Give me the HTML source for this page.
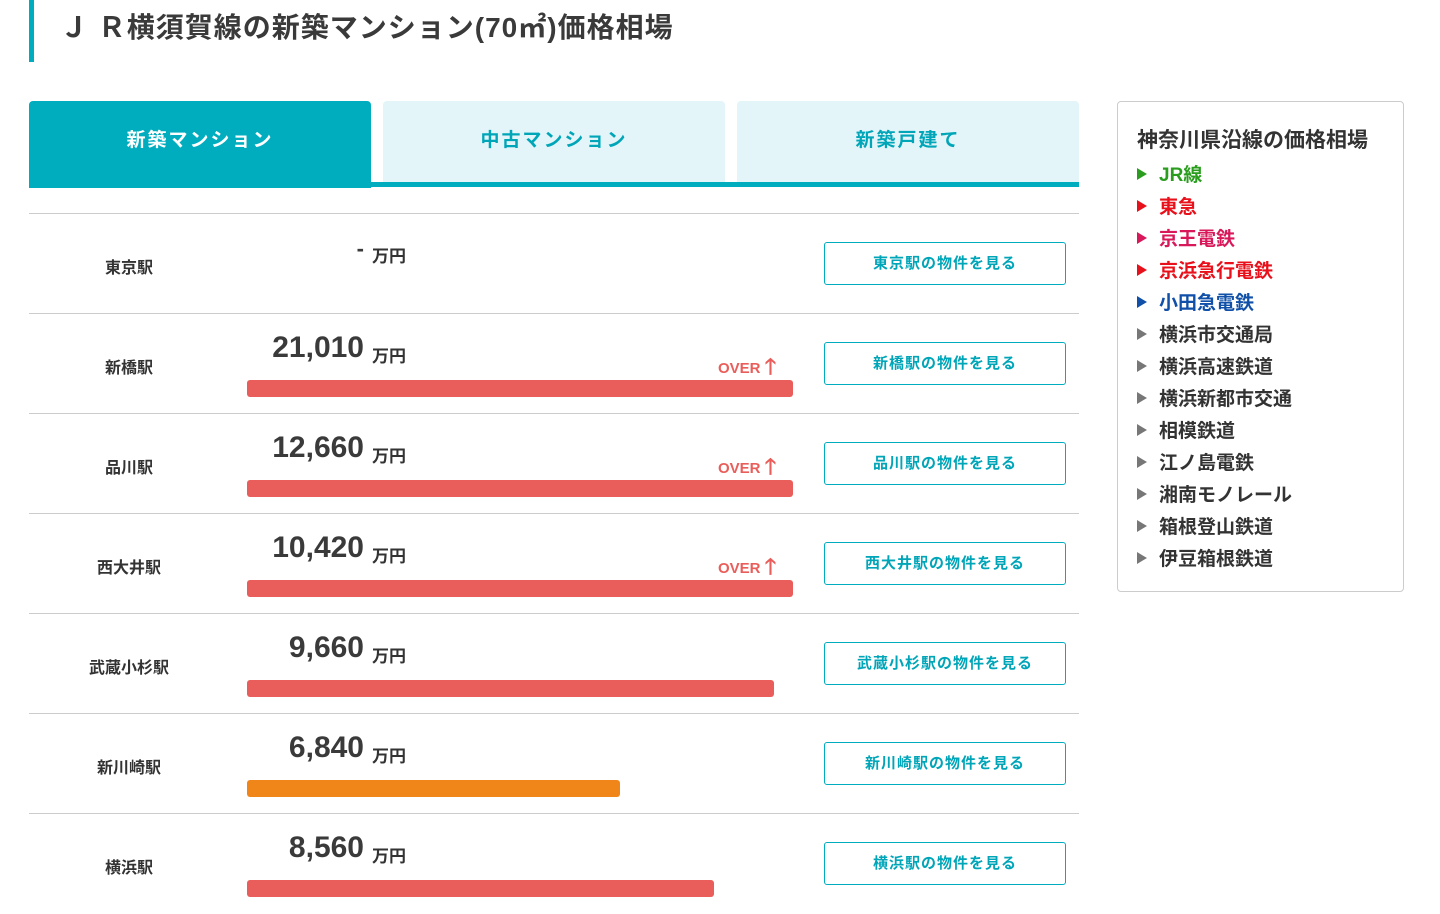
<!DOCTYPE html>
<html><head><meta charset="utf-8">
<style>
body{margin:0;width:1440px;height:892px;overflow:hidden;background:#fff;font-family:"Liberation Sans","Noto Sans CJK JP",sans-serif;color:#333;position:relative}
.abs{position:absolute}
#title{left:29px;top:0;height:62px;border-left:5px solid #00adbf;}
#title span{position:absolute;left:26px;top:6px;font-size:28px;font-weight:bold;white-space:nowrap;letter-spacing:1px;color:#3a3a3a}
.tab{top:101px;width:342px;height:81px;border-radius:4px 4px 0 0;background:#e3f5f8;color:#00a5b8;font-size:19px;font-weight:bold;text-align:center;line-height:80px;letter-spacing:2px}
.tab.on{background:#00adbf;color:#fff;height:87px}
#tabline{left:29px;top:182px;width:1050px;height:5px;background:#00adbf}
.row{left:29px;width:1050px;height:100px;border-top:1px solid #ccc}
.st{position:absolute;left:0;width:200px;text-align:center;top:40px;font-size:16px;font-weight:bold;color:#333}
.num{position:absolute;right:715px;top:17px;font-size:30px;font-weight:bold;color:#3a3a3a}
.unit{position:absolute;left:343px;top:28px;font-size:17px;font-weight:bold}
.btn{position:absolute;left:795px;top:28px;width:240px;height:41px;border:1px solid #00adbf;border-radius:3px;color:#00a5b8;font-size:15px;font-weight:bold;text-align:center;line-height:41px;letter-spacing:1px}
.bar{position:absolute;left:218px;top:66px;height:17px;border-radius:3px}
.over{position:absolute;left:689px;top:35px;color:#e95e5a;font-size:15px;font-weight:bold}
#side{left:1117px;top:101px;width:285px;height:489px;border:1px solid #ccc;border-radius:4px}
#side h3{margin:0;position:absolute;left:19px;top:22px;font-size:21px;font-weight:bold;color:#333;white-space:nowrap}
.li{position:absolute;left:19px;font-size:19px;font-weight:bold;white-space:nowrap}
.li b{display:inline-block;width:0;height:0;border-left:10px solid currentColor;border-top:6px solid transparent;border-bottom:6px solid transparent;margin-right:12px;vertical-align:1px}
</style></head><body>
<div id="title" class="abs"><span>Ｊ Ｒ横須賀線の新築マンション(70㎡)価格相場</span></div>
<div class="abs tab on" style="left:29px">新築マンション</div>
<div class="abs tab" style="left:383px">中古マンション</div>
<div class="abs tab" style="left:737px">新築戸建て</div>
<div id="tabline" class="abs"></div>
<div id="rows"></div>
<div id="side" class="abs">
<h3>神奈川県沿線の価格相場</h3>
<div id="lis"></div>
</div>
<script>
const stations=["東京駅","新橋駅","品川駅","西大井駅","武蔵小杉駅","新川崎駅","横浜駅"];
const prices=[null,21010,12660,10420,9660,6840,8560];
const maxVal=10000;
function barW(v){return Math.min(v,maxVal)/maxVal*546;}
const rows=document.getElementById('rows');
stations.forEach((s,i)=>{
 const r=document.createElement('div');r.className='abs row';r.style.top=(213+i*100)+'px';
 
 
 const v=prices[i];
 let h='<div class="st">'+s+'</div>';
 if(v==null){h+='<div class="num" style="top:22px;font-size:22px">-</div>';}
 else{h+='<div class="num">'+v.toLocaleString('en-US')+'</div>';
  const c=v<8000?'#f0861a':'#e95e5a';
  h+='<div class="bar" style="width:'+barW(v)+'px;background:'+c+'"></div>';
  if(v>maxVal)h+='<div class="over">OVER <span style="font-size:22px;position:relative;top:1px">🡑</span></div>';}
 h+='<div class="unit">万円</div>';
 h+='<div class="btn">'+s+'の物件を見る</div>';
 r.innerHTML=h;rows.appendChild(r);
});
const lines=["JR線","東急","京王電鉄","京浜急行電鉄","小田急電鉄","横浜市交通局","横浜高速鉄道","横浜新都市交通","相模鉄道","江ノ島電鉄","湘南モノレール","箱根登山鉄道","伊豆箱根鉄道"];
const cols=["#2a9d1e","#e8101a","#d8185a","#e8101a","#1050a8"];
const lis=document.getElementById('lis');
lines.forEach((l,i)=>{
 const d=document.createElement('div');d.className='li';d.style.top=(58+i*32)+'px';
 d.style.color=cols[i]||'#333';
 
 
 d.innerHTML='<b style="color:'+(cols[i]||'#777')+'"></b>'+l;lis.appendChild(d);
});
</script>
</body></html>
